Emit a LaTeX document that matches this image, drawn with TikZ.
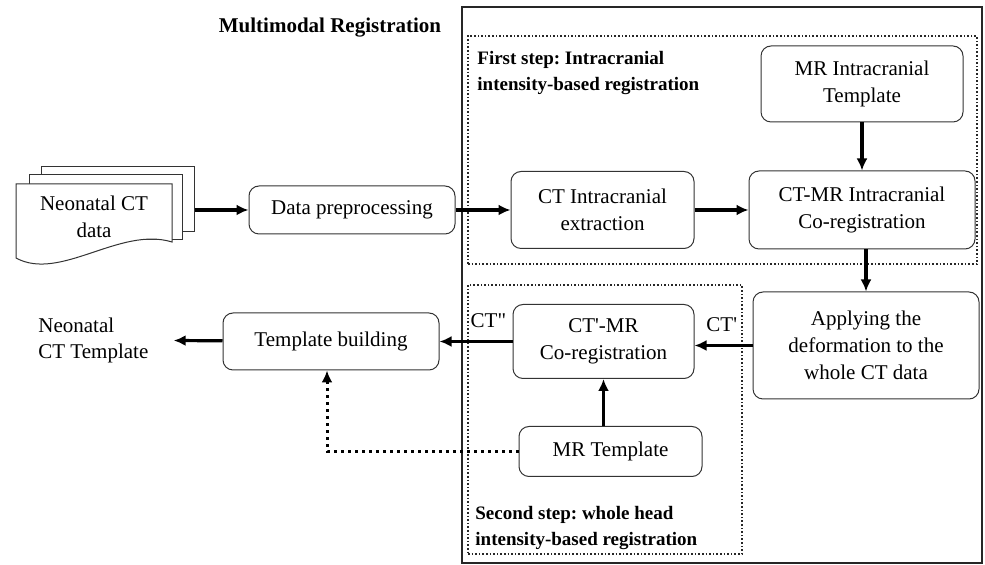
\documentclass[tikz,border=0pt]{standalone}
\usepackage{fontspec}
\setmainfont[Ligatures=TeXOff]{Liberation Serif}
\usetikzlibrary{fit,positioning,arrows.meta}
\frenchspacing

\begin{document}
\begin{tikzpicture}[x=0.5pt,y=-0.5pt]
\tikzstyle{proc}=[rectangle, rounded corners=5pt, draw=black!80, line width=0.5pt, align=center, inner sep=2pt, font=\fontsize{10.5}{13.5}\selectfont]
\tikzstyle{sheet}=[rectangle, draw=black!80, line width=0.5pt, fill=white, minimum width=76.5pt, minimum height=32.5pt]
\tikzstyle{stepbox}=[rectangle, draw=black!85, line width=0.8pt, densely dotted, inner sep=0pt]
\tikzstyle{steplabel}=[align=left, inner sep=0pt, anchor=west, font=\bfseries\fontsize{9.5}{13}\selectfont]
\tikzstyle{connect}=[-{Latex[length=6pt,width=5.5pt]}, line width=1.6pt]
\tikzstyle{dotconnect}=[-{Latex[length=6pt,width=5.5pt]}, line width=1.5pt, dotted]

  \useasboundingbox (0,0) rectangle (985,565);

  % registration frame and the two steps
  \node[rectangle, draw=black!85, line width=1.2pt, inner sep=0pt, fit={(462,7) (982,563)}] (outer) {};
  \node[stepbox, fit={(468,36) (977,264)}] (step1) {};
  \node[stepbox, fit={(468,285) (742,554)}] (step2) {};
  \node[font=\bfseries\fontsize{10.5}{13}\selectfont] (title) at (330,28) {Multimodal Registration};
  \node[steplabel] (step1label) at (477,73) {First step: Intracranial\\intensity-based registration};
  \node[steplabel] (step2label) at (475,528) {Second step: whole head\\intensity-based registration};

  % input data as a stack of sheets
  \node[sheet] (sheet3) at (117.5,199.5) {};
  \node[sheet] (sheet2) at (105.5,207.5) {};
  \draw[draw=black!80, line width=0.5pt, fill=white] (16,184) -- (172,184) -- (172,242)
     .. controls (120,226) and (60,282) .. (16,258) -- cycle;
  \node[align=center, font=\fontsize{10.5}{13.5}\selectfont] (data) at (94,217) {Neonatal CT\\data};

  \node[proc, minimum width=103pt, minimum height=24pt] (prep) at (352,210) {Data preprocessing};
  \node[proc, minimum width=91.5pt, minimum height=38.5pt, right=27.5pt of prep] (ctext) {CT Intracranial\\extraction};
  \node[proc, minimum width=113pt, minimum height=39pt, right=27pt of ctext] (coreg1) {CT-MR Intracranial\\Co-registration};
  \node[proc, minimum width=101pt, minimum height=38pt, above=24pt of coreg1] (mrint) {MR Intracranial\\Template};
  \node[proc, minimum width=113pt, minimum height=53.5pt, below=21pt of coreg1, xshift=2pt] (apply) {Applying the\\deformation to the\\whole CT data};
  \node[proc, minimum width=90.5pt, minimum height=37pt, left=29pt of apply, yshift=2pt] (coreg2) {CT'-MR\\Co-registration};
  \node[proc, minimum width=91.5pt, minimum height=25pt, below=23.5pt of coreg2, xshift=3.5pt] (mrtmp) {MR Template};
  \node[proc, minimum width=108pt, minimum height=28.5pt, left=36.5pt of coreg2] (build) {Template building};
  \node[align=left, inner sep=0pt, anchor=west, font=\fontsize{10.5}{13}\selectfont] (out) at (38,340) {Neonatal\\CT Template};

  \draw[connect] (sheet3.east |- prep.west) -- (prep.west);
  \path (prep) edge [connect] (ctext)
        (ctext) edge [connect] (coreg1)
        (mrint) edge [connect] (coreg1)
        (coreg2) edge [connect] node[above=3pt, pos=0.33, font=\fontsize{10.5}{13}\selectfont] {CT"} (build)
        (build) edge [connect, shorten >=12.5pt] (out);
  \draw[connect] (coreg1.south -| apply.north) -- (apply.north);
  \draw[connect] (apply.west) -- node[above=3pt, pos=0.53, font=\fontsize{10.5}{13}\selectfont] {CT'} (apply.west -| coreg2.east);
  \draw[connect] (coreg2.south |- mrtmp.north) -- (coreg2.south);
  \draw[dotconnect] (mrtmp.west) -| ([xshift=-2pt]build.south);
\end{tikzpicture}
\end{document}
